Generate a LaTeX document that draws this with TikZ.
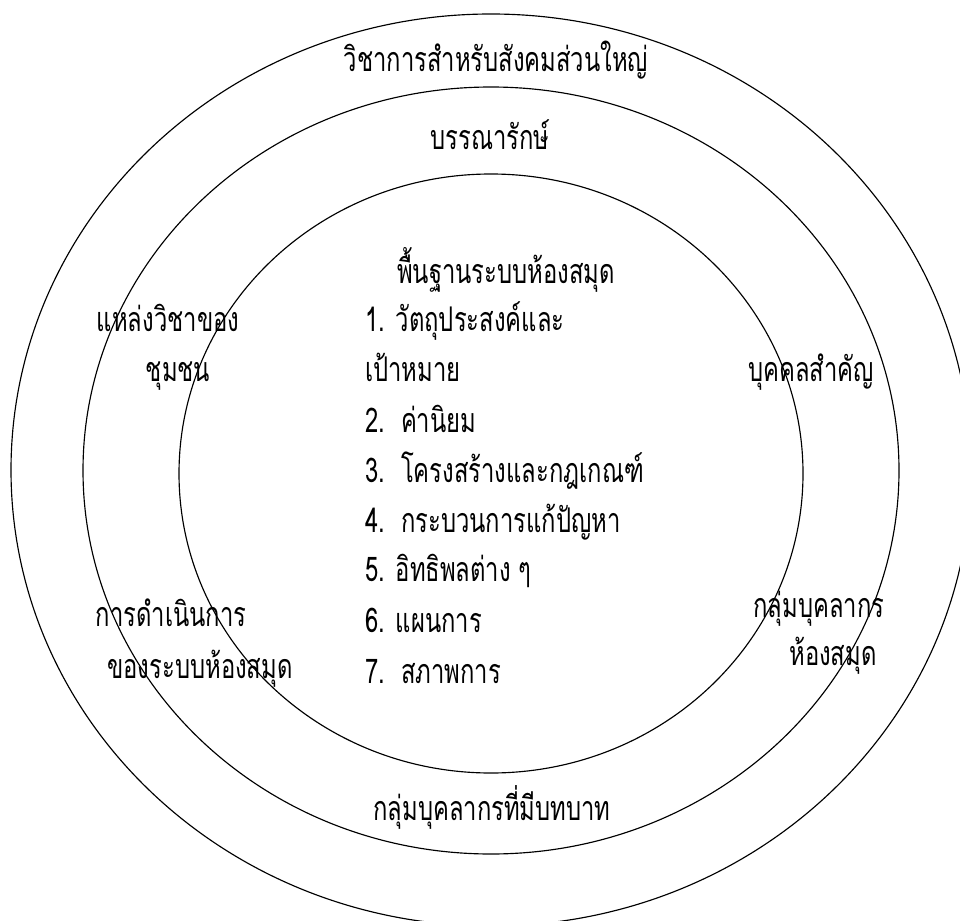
\documentclass[tikz,border=0pt]{standalone}
\usepackage{fontspec}
\newfontfamily\thaifont[Script=Thai,FakeStretch=0.70]{Loma}
\begin{document}
\begin{tikzpicture}[x=1pt,y=-1pt,
  ring/.style={draw=black,line width=1.15pt},
  lbl/.style={inner sep=0pt,font=\thaifont\fontsize{34}{40}\selectfont},
  cl/.style={lbl,anchor=base},
  ll/.style={lbl,anchor=base west}]
\useasboundingbox (0,0) rectangle (960,920);
\clip (0,0) rectangle (960,920);
\draw[ring] (491,470) ellipse [x radius=480,y radius=456];
\draw[ring] (491,470.5) ellipse [x radius=408,y radius=383.5];
\draw[ring] (491,473.5) ellipse [x radius=312,y radius=299.5];
\node[cl] (t1) at (496,72) {วิชาการสำหรับสังคมส่วนใหญ่};
\node[cl] (t2) at (490,150) {บรรณารักษ์};
\node[cl] (t3) at (506,283) {พื้นฐานระบบห้องสมุด};
\node[ll] (i1) at (365,331) {1. วัตถุประสงค์และ};
\node[ll] (i1b) at (365,381) {เป้าหมาย};
\node[ll] (i2) at (365,432) {2.\ \ ค่านิยม};
\node[ll] (i3) at (365,482) {3.\ \ โครงสร้างและกฎเกณฑ์};
\node[ll] (i4) at (365,532) {4.\ \ กระบวนการแก้ปัญหา};
\node[ll] (i5) at (365,581) {5. อิทธิพลต่าง ๆ};
\node[ll] (i6) at (365,632) {6. แผนการ};
\node[ll] (i7) at (365,683) {7.\ \ สภาพการ};
\node[cl] (a1) at (168,331) {แหล่งวิชาของ};
\node[cl] (a2) at (178,381) {ชุมชน};
\node[cl] (b1) at (811,381) {บุคคลสำคัญ};
\node[cl] (c1) at (819,617) {กลุ่มบุคลากร};
\node[cl] (c2) at (833,665) {ห้องสมุด};
\node[cl] (d1) at (171,626) {การดำเนินการ};
\node[cl] (d2) at (200,678) {ของระบบห้องสมุด};
\node[cl] (e1) at (492,820) {กลุ่มบุคลากรที่มีบทบาท};
\end{tikzpicture}
\end{document}
